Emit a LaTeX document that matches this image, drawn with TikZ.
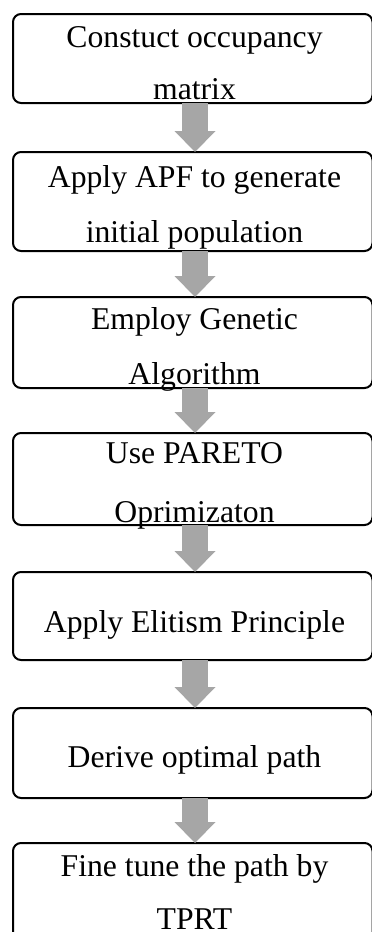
\documentclass[tikz,border=0pt]{standalone}
\usepackage{fontspec}
\setmainfont{Liberation Serif}
\usetikzlibrary{arrows.meta}
\definecolor{arrgray}{HTML}{A6A6A6}
\tikzset{
  box/.style={draw=black, line width=2pt, rounded corners=8pt, minimum width=359.5pt, inner sep=0pt, outer sep=0pt},
  label/.style={anchor=base, inner sep=0pt, font=\fontsize{31.7pt}{38pt}\selectfont},
  flowarrow/.style={draw=arrgray, line width=26pt, -{Triangle[width=41pt,length=21pt,line width=0pt,fill=arrgray]}}
}
\begin{document}
\begin{tikzpicture}[x=1pt,y=-1pt]
\useasboundingbox (0,0) rectangle (372,932);
\clip (0,0) rectangle (372,932);
% boxes
\node[box, minimum height=89pt]  (b1) at (192.75,58.5) {};
\node[box, minimum height=99pt]  (b2) at (192.75,201.5) {};
\node[box, minimum height=91pt]  (b3) at (192.75,342.5) {};
\node[box, minimum height=92pt]  (b4) at (192.75,479) {};
\node[box, minimum height=88pt]  (b5) at (192.75,616) {};
\node[box, minimum height=90pt]  (b6) at (192.75,753) {};
\node[box, minimum height=117pt] (b7) at (192.75,901.5) {};
% texts
\node[label] (t1a) at (194.5,47) {Constuct occupancy};
\node[label] (t1b) at (194.5,99) {matrix};
\node[label] (t2a) at (194.5,187) {Apply APF to generate};
\node[label] (t2b) at (194.5,242) {initial population};
\node[label] (t3a) at (194.5,329) {Employ Genetic};
\node[label] (t3b) at (194.5,384) {Algorithm};
\node[label] (t4a) at (194.5,463) {Use PARETO};
\node[label] (t4b) at (194.5,522) {Oprimizaton};
\node[label] (t5)  at (194.5,632) {Apply Elitism Principle};
\node[label] (t6)  at (194.5,767) {Derive optimal path};
\node[label] (t7a) at (194.5,876) {Fine tune the path by};
\node[label] (t7b) at (194.5,929) {TPRT};
% arrows
\coordinate (ax) at (195,0);
\draw[flowarrow] (b1.south -| ax) -- (b2.north -| ax);
\draw[flowarrow] (b2.south -| ax) -- (b3.north -| ax);
\draw[flowarrow] (b3.south -| ax) -- (b4.north -| ax);
\draw[flowarrow] (b4.south -| ax) -- (b5.north -| ax);
\draw[flowarrow] (b5.south -| ax) -- (b6.north -| ax);
\draw[flowarrow] (b6.south -| ax) -- (b7.north -| ax);
\end{tikzpicture}
\end{document}
